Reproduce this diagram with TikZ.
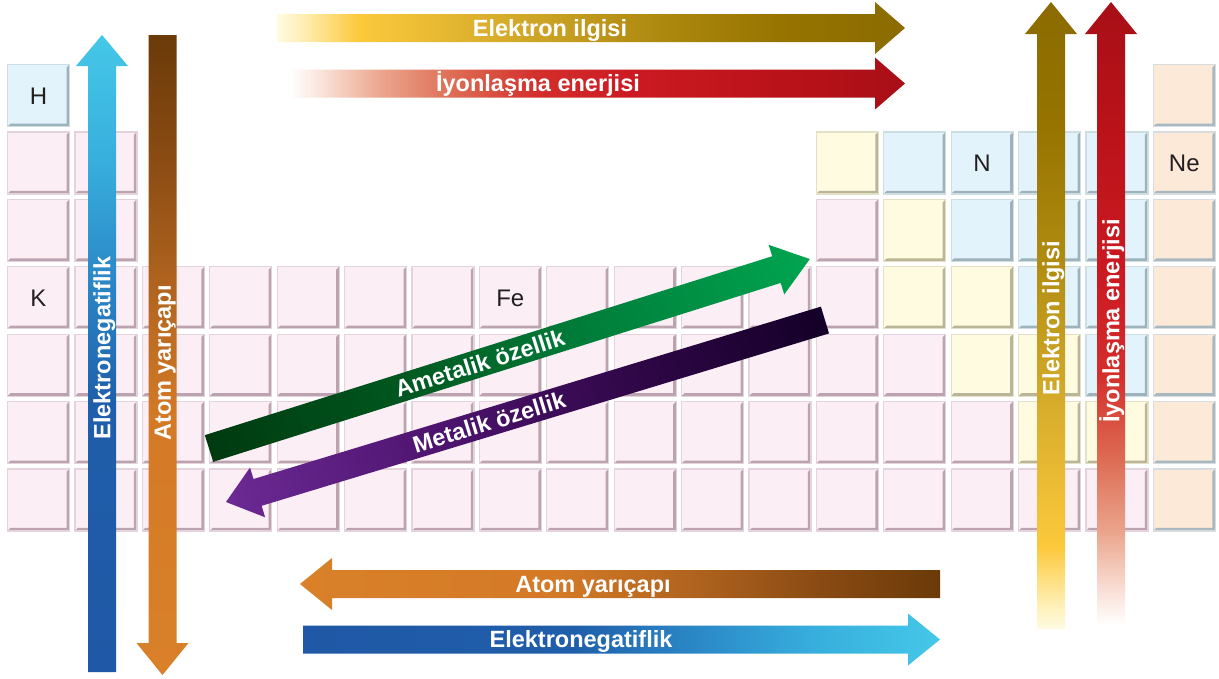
\documentclass[tikz,border=0pt]{standalone}
\usepackage{fontspec}
\setmainfont{Liberation Sans}
\usetikzlibrary{calc}

% cell colours
\definecolor{pinkfill}{HTML}{FCEEF5}
\definecolor{pinklight}{HTML}{E4D3DC}
\definecolor{pinkdark}{HTML}{BCA3B0}
\definecolor{bluefill}{HTML}{E2F3FB}
\definecolor{bluelight}{HTML}{CCDDE4}
\definecolor{bluedark}{HTML}{9DB2BB}
\definecolor{yelfill}{HTML}{FFFBE1}
\definecolor{yellight}{HTML}{E4E0C8}
\definecolor{yeldark}{HTML}{BAB596}
\definecolor{orgfill}{HTML}{FDE9D7}
\definecolor{orglight}{HTML}{D9DCDE}
\definecolor{orgdark}{HTML}{A7B8C0}
\definecolor{elemtext}{HTML}{231F20}

% arrow colours
\definecolor{ilgiA}{HTML}{FFFBE3}
\definecolor{ilgiB}{HTML}{FFEFB5}
\definecolor{ilgiC}{HTML}{FCC93C}
\definecolor{ilgiD}{HTML}{D8AD2C}
\definecolor{ilgiE}{HTML}{AE8A10}
\definecolor{ilgiF}{HTML}{977400}
\definecolor{ilgiG}{HTML}{8B6B00}
\definecolor{iyonA}{HTML}{FFFFFF}
\definecolor{iyonB}{HTML}{FAE3DA}
\definecolor{iyonC}{HTML}{EBA48C}
\definecolor{iyonD}{HTML}{DD6A52}
\definecolor{iyonE}{HTML}{D32F2C}
\definecolor{iyonF}{HTML}{CC1A22}
\definecolor{iyonG}{HTML}{BA1219}
\definecolor{iyonH}{HTML}{A80F17}
\definecolor{atomA}{HTML}{D98029}
\definecolor{atomB}{HTML}{D47A27}
\definecolor{atomC}{HTML}{B2651F}
\definecolor{atomD}{HTML}{8C4C14}
\definecolor{atomE}{HTML}{6A3A08}
\definecolor{negA}{HTML}{1F58A6}
\definecolor{negB}{HTML}{1F5EAA}
\definecolor{negC}{HTML}{2A84C4}
\definecolor{negD}{HTML}{37AEDD}
\definecolor{negE}{HTML}{45C8E8}
\definecolor{grnA}{HTML}{003A10}
\definecolor{grnB}{HTML}{00551E}
\definecolor{grnC}{HTML}{007A38}
\definecolor{grnD}{HTML}{00A550}
\definecolor{purA}{HTML}{6C2A94}
\definecolor{purB}{HTML}{4E1470}
\definecolor{purC}{HTML}{2E0645}
\definecolor{purD}{HTML}{140028}

\pgfdeclarehorizontalshading{ilgishade}{100bp}{color(0bp)=(ilgiA); color(25bp)=(ilgiA);
  color(27bp)=(ilgiB); color(31.5bp)=(ilgiC); color(42.5bp)=(ilgiD); color(55bp)=(ilgiE);
  color(65bp)=(ilgiF); color(75bp)=(ilgiG); color(100bp)=(ilgiG)}
\pgfdeclarehorizontalshading{iyonshade}{100bp}{color(0bp)=(iyonA); color(25bp)=(iyonA);
  color(27.5bp)=(iyonB); color(32.5bp)=(iyonC); color(38.5bp)=(iyonD); color(45bp)=(iyonE);
  color(52.5bp)=(iyonF); color(65bp)=(iyonG); color(75bp)=(iyonH); color(100bp)=(iyonH)}
\pgfdeclarehorizontalshading{atomshade}{100bp}{color(0bp)=(atomA); color(25bp)=(atomA);
  color(45bp)=(atomB); color(55bp)=(atomC); color(65bp)=(atomD); color(75bp)=(atomE); color(100bp)=(atomE)}
\pgfdeclarehorizontalshading{negshade}{100bp}{color(0bp)=(negA); color(25bp)=(negA);
  color(46bp)=(negB); color(55bp)=(negC); color(65bp)=(negD); color(75bp)=(negE); color(100bp)=(negE)}
\pgfdeclarehorizontalshading{grnshade}{100bp}{color(0bp)=(grnA); color(25bp)=(grnA);
  color(40bp)=(grnB); color(55bp)=(grnC); color(75bp)=(grnD); color(100bp)=(grnD)}
\pgfdeclarehorizontalshading{purshade}{100bp}{color(0bp)=(purA); color(25bp)=(purA);
  color(42.5bp)=(purB); color(60bp)=(purC); color(75bp)=(purD); color(100bp)=(purD)}

\tikzset{
  bevel/.style={path picture={
    \fill[#1] (path picture bounding box.south west) -- (path picture bounding box.south east)
      -- (path picture bounding box.north east) -- ([xshift=-3pt,yshift=-3pt]path picture bounding box.north east)
      -- ([xshift=-3pt,yshift=3pt]path picture bounding box.south east)
      -- ([xshift=3pt,yshift=3pt]path picture bounding box.south west) -- cycle;}},
  cell/.style={rectangle, minimum width=62pt, minimum height=62pt, inner sep=0pt, line width=1.2pt},
  pinkcell/.style={cell, fill=pinkfill, draw=pinklight, bevel=pinkdark},
  bluecell/.style={cell, fill=bluefill, draw=bluelight, bevel=bluedark},
  yelcell/.style={cell, fill=yelfill, draw=yellight, bevel=yeldark},
  orgcell/.style={cell, fill=orgfill, draw=orglight, bevel=orgdark},
  elem/.style={font=\fontsize{24}{28}\selectfont, text=elemtext, inner sep=0pt, text height=17pt, text depth=0pt},
  arrowtext/.style={font=\bfseries\fontsize{23.5}{28}\selectfont, text=white, inner sep=0pt, text height=16.8pt, text depth=0pt},
}

\begin{document}
\begin{tikzpicture}[x=1pt, y=-1pt]
\useasboundingbox (0,0) rectangle (1219,678);
\fill[white] (0,0) rectangle (1219,678);

% table cells
\foreach \c in {1,...,12}
  \foreach \r in {4,...,7}
    \node[pinkcell] (cell-\c-\r) at ({38.5+(\c-1)*67.4},{95.5+(\r-1)*67.4}) {};
\foreach \c/\r in {1/2,2/2,1/3,2/3,13/3,13/4,13/5,14/5,13/6,14/6,15/6,13/7,14/7,15/7,16/7,17/7}
  \node[pinkcell] (cell-\c-\r) at ({38.5+(\c-1)*67.4},{95.5+(\r-1)*67.4}) {};
\foreach \c/\r in {13/2,14/3,14/4,15/4,15/5,16/5,16/6,17/6}
  \node[yelcell] (cell-\c-\r) at ({38.5+(\c-1)*67.4},{95.5+(\r-1)*67.4}) {};
\foreach \c/\r in {1/1,14/2,15/2,16/2,17/2,15/3,16/3,17/3,16/4,17/4,17/5}
  \node[bluecell] (cell-\c-\r) at ({38.5+(\c-1)*67.4},{95.5+(\r-1)*67.4}) {};
\foreach \r in {1,...,7}
  \node[orgcell] (cell-18-\r) at ({38.5+17*67.4},{95.5+(\r-1)*67.4}) {};

% element symbols
\node[elem] (el-H) at (cell-1-1) {H};
\node[elem] (el-K) at (cell-1-4) {K};
\node[elem] (el-Fe) at (cell-8-4) {Fe};
\node[elem] (el-N) at (cell-15-2) {N};
\node[elem] (el-Ne) at (cell-18-2) {Ne};

% left vertical arrows
\shade[shading=negshade, shading angle=90] (88,672) -- (88,66) -- (76,66) -- (102,35) -- (128,66) -- (116,66) -- (116,672) -- cycle;
\shade[shading=atomshade, shading angle=90] (148.5,35) -- (176.5,35) -- (176.5,643) -- (188.5,643) -- (162.5,675) -- (136.5,643) -- (148.5,643) -- cycle;
\node[arrowtext, rotate=90] (t-negV) at (102,348) {Elektronegatiflik};
\node[arrowtext, rotate=90] (t-atomV) at (162.5,363) {Atom yarıçapı};

% right vertical arrows
\shade[shading=ilgishade, shading angle=90] (1037,629) -- (1037,34) -- (1025,34) -- (1051,2) -- (1077,34) -- (1065,34) -- (1065,629) -- cycle;
\shade[shading=iyonshade, shading angle=90] (1097,625) -- (1097,34) -- (1085,34) -- (1111,2) -- (1137,34) -- (1125,34) -- (1125,625) -- cycle;
\node[arrowtext, rotate=90] (t-ilgiV) at (1051,318) {Elektron ilgisi};
\node[arrowtext, rotate=90] (t-iyonV) at (1111,321) {İyonlaşma enerjisi};

% top arrows
\shade[shading=ilgishade] (277,14) -- (875,14) -- (875,2) -- (905,28) -- (875,54) -- (875,42) -- (277,42) -- cycle;
\shade[shading=iyonshade] (290,69.5) -- (875,69.5) -- (875,57.5) -- (905,83.5) -- (875,109.5) -- (875,97.5) -- (290,97.5) -- cycle;
\node[arrowtext] (t-ilgiH) at (550,28) {Elektron ilgisi};
\node[arrowtext] (t-iyonH) at (538,83.5) {İyonlaşma enerjisi};

% bottom arrows
\shade[shading=atomshade] (300,584) -- (332,558) -- (332,570) -- (940,570) -- (940,598) -- (332,598) -- (332,610) -- cycle;
\shade[shading=negshade] (303,625.5) -- (908,625.5) -- (908,613.5) -- (940,639.5) -- (908,665.5) -- (908,653.5) -- (303,653.5) -- cycle;
\node[arrowtext] (t-atomH) at (593,584) {Atom yarıçapı};
\node[arrowtext] (t-negH) at (581,639.5) {Elektronegatiflik};

% diagonal arrows
\begin{scope}[transform canvas={shift={(209,448.5)}, rotate=17.5}]
  \shade[shading=grnshade] (0,-14) -- (595,-14) -- (595,-26) -- (630,0) -- (595,26) -- (595,14) -- (0,14) -- cycle;
  \node[arrowtext] (t-ametal) at (284,0) {Ametalik özellik};
\end{scope}
\begin{scope}[transform canvas={shift={(226,502)}, rotate=16.9}]
  \shade[shading=purshade] (0,0) -- (33,-26) -- (33,-14) -- (626,-14) -- (626,14) -- (33,14) -- (33,26) -- cycle;
  \node[arrowtext] (t-metal) at (275,0) {Metalik özellik};
\end{scope}
\end{tikzpicture}
\end{document}
